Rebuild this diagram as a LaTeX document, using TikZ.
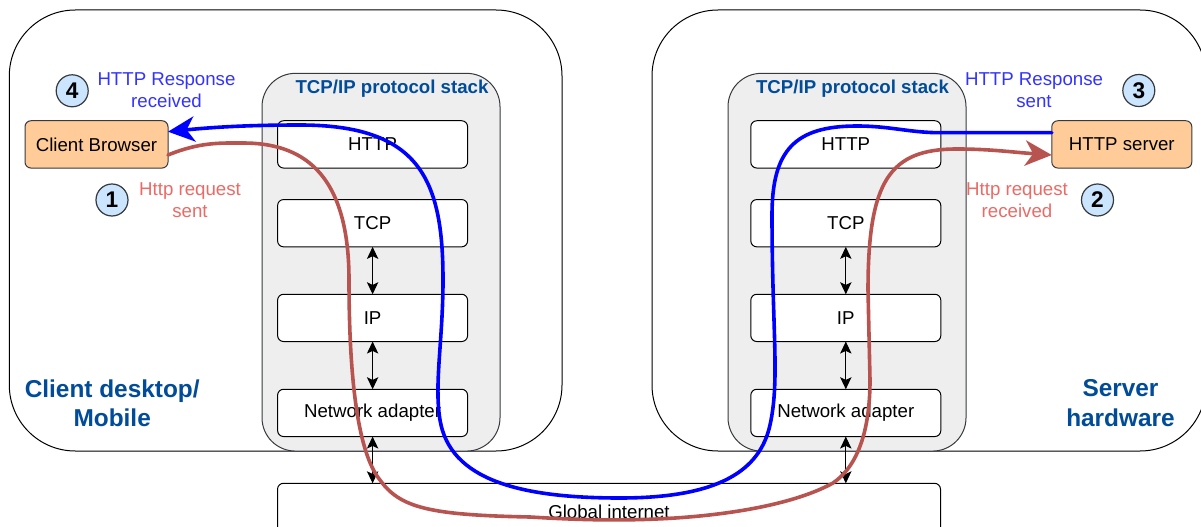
\documentclass[tikz,border=0pt]{standalone}
\usepackage{fontspec}
\setmainfont{Liberation Sans}
\usetikzlibrary{arrows.meta,calc}
\definecolor{titleblue}{HTML}{004C99}
\definecolor{lblblue}{HTML}{3333FF}
\definecolor{lblred}{HTML}{EA6B66}
\definecolor{curvered}{HTML}{B85450}
\definecolor{curveblue}{HTML}{0000FF}
\definecolor{orangefill}{HTML}{FFCC99}
\definecolor{circfill}{HTML}{CCE5FF}
\definecolor{stackfill}{HTML}{EEEEEE}
\definecolor{edgegray}{HTML}{36393D}
\begin{document}
\begin{tikzpicture}[x=0.75pt,y=-0.75pt,
  every node/.style={font=\fontsize{14pt}{16.8pt}\selectfont, inner sep=0pt, outer sep=0pt},
  sz/.style 2 args={minimum width=#1*0.75pt, minimum height=#2*0.75pt},
  outerbox/.style={draw=black, line width=0.75pt, fill=white, rounded corners=49.5pt},
  stackbox/.style={draw=edgegray, line width=0.75pt, fill=stackfill, rounded corners=25pt},
  layerbox/.style={draw=black, line width=0.75pt, fill=white, rounded corners=4.5pt, sz={190}{47.3}},
  appbox/.style={draw=edgegray, line width=0.75pt, fill=orangefill, rounded corners=4.5pt},
  numcirc/.style={circle, draw=edgegray, line width=0.9pt, fill=circfill, minimum size=24pt,
    font=\fontsize{17pt}{18pt}\selectfont\bfseries},
  stacktitle/.style={text=titleblue, font=\fontsize{14pt}{16.8pt}\selectfont\bfseries},
  biglabel/.style={text=titleblue, align=center, font=\fontsize{18.3pt}{22pt}\selectfont\bfseries},
  bluelabel/.style={text=lblblue, align=center},
  redlabel/.style={text=lblred, align=center},
  dblarrow/.style={draw=black, line width=0.75pt, {Stealth[length=9pt,width=8.5pt,inset=2pt]}-{Stealth[length=9pt,width=8.5pt,inset=2pt]}},
  reqline/.style={draw=curvered, line width=2.7pt, line cap=round, -{Stealth[length=20pt,width=19pt,inset=6pt]}},
  respline/.style={draw=curveblue, line width=2.7pt, line cap=round, -{Stealth[length=20pt,width=19pt,inset=6pt]}}
]
\useasboundingbox (0,0) rectangle (1201,527);
\fill[white] (0,0) rectangle (1201,527);

% outer machine boxes
\node[outerbox, sz={552.7}{441}] (client) at (285.65,230.5) {};
\node[outerbox, sz={554}{441}] (server) at (929,230.5) {};

% protocol stacks
\node[stackbox, sz={238}{377.7}] (lstack) at (381,262.2) {};
\node[stackbox, sz={238}{377.7}] (rstack) at (847,262.2) {};
\node[stacktitle] (ltitle) at (392,89) {TCP/IP protocol stack};
\node[stacktitle] (rtitle) at (852.5,89) {TCP/IP protocol stack};

% layers left
\node[layerbox] (lhttp) at (372.6,144.4) {HTTP};
\node[layerbox] (ltcp) at (372.6,223.2) {TCP};
\node[layerbox] (lip) at (372.6,317.9) {IP};
\node[layerbox] (lna) at (372.6,412.9) {Network adapter};
% layers right
\node[layerbox] (rhttp) at (845.8,144.4) {HTTP};
\node[layerbox] (rtcp) at (845.8,223.2) {TCP};
\node[layerbox] (rip) at (845.8,317.9) {IP};
\node[layerbox] (rna) at (845.8,412.9) {Network adapter};

% global internet
\node[draw=black, line width=0.75pt, fill=white, rounded corners=4.5pt, sz={663}{58}] (gi) at (609,512.3) {Global internet};

% layer arrows
\draw[dblarrow] (ltcp.south) -- (lip.north);
\draw[dblarrow] (lip.south) -- (lna.north);
\draw[dblarrow] (lna.south) -- (lna.south |- gi.north);
\draw[dblarrow] (rtcp.south) -- (rip.north);
\draw[dblarrow] (rip.south) -- (rna.north);
\draw[dblarrow] (rna.south) -- (rna.south |- gi.north);

% applications
\node[appbox, sz={143}{47.3}] (cb) at (96.5,144.4) {Client Browser};
\node[appbox, sz={140}{47.3}] (hs) at (1121.8,144.4) {HTTP server};

% big labels
\node[biglabel] (cdm) at (112.2,403) {Client desktop/\\Mobile};
\node[biglabel] (shw) at (1120.5,403) {Server\\hardware};

% step markers
\node[numcirc] (c4) at (72.2,90.8) {4};
\node[bluelabel] (l4) at (166.5,90) {HTTP Response\\received};
\node[numcirc] (c1) at (112,200) {1};
\node[redlabel] (l1) at (190,200) {Http request\\sent};
\node[numcirc] (c3) at (1138.8,90.5) {3};
\node[bluelabel] (l3) at (1034,90) {HTTP Response\\sent};
\node[numcirc] (c2) at (1097.5,200) {2};
\node[redlabel] (l2) at (1017,200) {Http request\\received};

% request path
\draw[reqline] ($(cb.east)+(0,10.6)$) .. controls (200,142) and (220,143) .. (243,143)
  .. controls (300,143) and (349,170) .. (349,280)
  .. controls (349,400) and (362,458) .. (380,480)
  .. controls (400,508) and (430,515) .. (530,517)
  .. controls (580,520) and (620,521) .. (667,518.5)
  .. controls (730,515) and (795,504) .. (833,483)
  .. controls (858,466) and (870,430) .. (870,380)
  -- (868,290)
  .. controls (868,180) and (890,149) .. (957,149)
  .. controls (990,149) and (1010,152) .. ($(hs.west)+(0,10.6)$);

% response path
\draw[respline] ($(hs.west)+(0,-11.7)$) -- (940,132.7)
  .. controls (910,132.7) and (890,126) .. (857,126)
  .. controls (795,126) and (772,150) .. (772,215)
  .. controls (772,330) and (780,380) .. (770,425)
  .. controls (760,470) and (720,498) .. (620,498)
  .. controls (520,498) and (450,480) .. (440,420)
  .. controls (434,384) and (443,340) .. (443,280)
  .. controls (443,180) and (420,125) .. (300,125)
  .. controls (240,125) and (205,128) .. ($(cb.east)+(0,-12.7)$);
\end{tikzpicture}
\end{document}
